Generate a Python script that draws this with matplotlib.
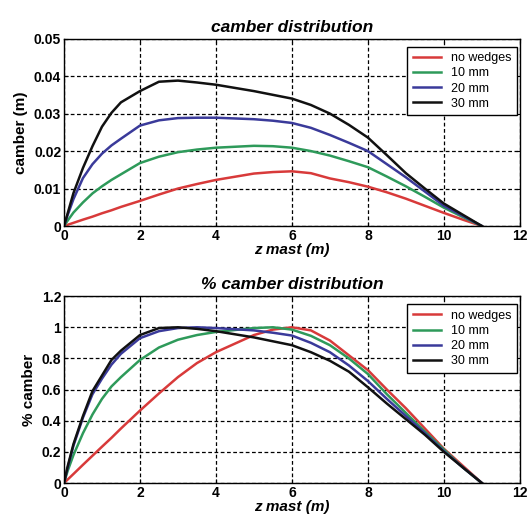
import matplotlib
matplotlib.use("Agg")
import matplotlib.pyplot as plt
from matplotlib.ticker import FuncFormatter

plt.rcParams['font.family'] = ['Liberation Sans', 'DejaVu Sans']

# z mast positions (m)
z = [0, 0.1, 0.25, 0.5, 0.75, 1, 1.25, 1.5, 2, 2.5, 3, 3.5, 4, 5, 5.5, 6,
     6.5, 7, 7.5, 8, 8.5, 9, 9.5, 10, 10.5, 11]

# camber (m)
cam_0 = [0, 0.00034, 0.00085, 0.0017, 0.0025, 0.0034, 0.0042, 0.0051, 0.0067,
         0.0084, 0.0100, 0.0112, 0.0123, 0.0140, 0.0144, 0.0146, 0.0141,
         0.0127, 0.0117, 0.0105, 0.0090, 0.0073, 0.0054, 0.0035, 0.0017, 0]
cam_10 = [0, 0.0015, 0.0036, 0.0063, 0.0087, 0.0106, 0.0123, 0.0138, 0.0168,
          0.0185, 0.0197, 0.0204, 0.0209, 0.0214, 0.0213, 0.0209, 0.0200,
          0.0188, 0.0173, 0.0157, 0.0132, 0.0106, 0.0078, 0.0049, 0.0024, 0]
cam_20 = [0, 0.0030, 0.0072, 0.0128, 0.0165, 0.0193, 0.0215, 0.0233, 0.0268,
          0.0282, 0.0288, 0.0289, 0.0289, 0.0285, 0.0281, 0.0275, 0.0262,
          0.0243, 0.0222, 0.0200, 0.0165, 0.0130, 0.0092, 0.0054, 0.0027, 0]
cam_30 = [0, 0.0035, 0.0088, 0.0155, 0.0213, 0.0265, 0.0302, 0.0330, 0.0360,
          0.0385, 0.0388, 0.0383, 0.0377, 0.0360, 0.0350, 0.0340, 0.0323,
          0.0300, 0.0270, 0.0236, 0.0189, 0.0141, 0.0100, 0.0060, 0.0030, 0]

# % camber
pct_0 = [0, 0.023, 0.058, 0.117, 0.175, 0.233, 0.29, 0.35, 0.465, 0.575,
         0.68, 0.77, 0.84, 0.95, 0.985, 1.0, 0.98, 0.915, 0.82, 0.725, 0.60,
         0.48, 0.35, 0.22, 0.11, 0]
pct_10 = [0, 0.08, 0.18, 0.32, 0.44, 0.54, 0.62, 0.68, 0.79, 0.87, 0.92,
          0.95, 0.97, 0.995, 1.0, 0.985, 0.945, 0.885, 0.80, 0.70, 0.57,
          0.45, 0.33, 0.215, 0.10, 0]
pct_20 = [0, 0.10, 0.24, 0.42, 0.57, 0.67, 0.76, 0.83, 0.93, 0.975, 0.995,
          1.0, 0.995, 0.98, 0.965, 0.947, 0.90, 0.84, 0.755, 0.655, 0.54,
          0.43, 0.32, 0.205, 0.10, 0]
pct_30 = [0, 0.11, 0.25, 0.43, 0.59, 0.69, 0.79, 0.85, 0.95, 0.995, 1.0,
          0.99, 0.975, 0.935, 0.91, 0.885, 0.84, 0.785, 0.715, 0.615, 0.51,
          0.41, 0.31, 0.20, 0.10, 0]

labels = ["no wedges", "10 mm", "20 mm", "30 mm"]
colors = ["#d83a3a", "#2e9a5a", "#3a3a9a", "#111111"]

fig = plt.figure(figsize=(5.27, 5.22), dpi=100)
ax1 = fig.add_axes([0.1214, 0.567, 0.865, 0.359])
ax2 = fig.add_axes([0.1214, 0.0747, 0.865, 0.358])

fmt = FuncFormatter(lambda v, p: ("%g" % round(v, 4)))


def style(ax, ylim, yticks):
    ax.set_xlim(0, 12)
    ax.set_ylim(*ylim)
    ax.set_xticks(range(0, 13, 2))
    ax.set_yticks(yticks)
    ax.yaxis.set_major_formatter(fmt)
    ax.grid(True, color="black", linestyle=(0, (3, 2)), linewidth=0.9)
    ax.tick_params(direction="in", top=True, right=True, length=3,
                   labelsize=10, pad=2)
    for lab in ax.get_xticklabels() + ax.get_yticklabels():
        lab.set_fontweight("bold")
    for s in ax.spines.values():
        s.set_linewidth(1.0)
    ax.set_xlabel("z mast (m)", fontsize=11, fontweight="bold",
                  fontstyle="italic", labelpad=0)
    leg = ax.legend(loc="upper right", bbox_to_anchor=(0.993, 0.957),
                    fontsize=9, fancybox=False, edgecolor="black",
                    framealpha=1, borderaxespad=0, handlelength=2.2,
                    handletextpad=0.8, labelspacing=0.25, borderpad=0.45)
    leg.get_frame().set_linewidth(1.0)


for y, c, l in zip([cam_0, cam_10, cam_20, cam_30], colors, labels):
    ax1.plot(z, y, color=c, linewidth=1.8, label=l)
ax1.set_title("camber distribution", fontsize=12.5, fontweight="bold",
              fontstyle="italic", pad=5)
ax1.set_ylabel("camber (m)", fontsize=11, fontweight="bold")
style(ax1, (0, 0.05), [0, 0.01, 0.02, 0.03, 0.04, 0.05])

for y, c, l in zip([pct_0, pct_10, pct_20, pct_30], colors, labels):
    ax2.plot(z, y, color=c, linewidth=1.8, label=l)
ax2.set_title("% camber distribution", fontsize=12.5, fontweight="bold",
              fontstyle="italic", pad=5)
ax2.set_ylabel("% camber", fontsize=11, fontweight="bold")
style(ax2, (0, 1.2), [0, 0.2, 0.4, 0.6, 0.8, 1.0, 1.2])

fig.savefig("out.png", dpi=100)
